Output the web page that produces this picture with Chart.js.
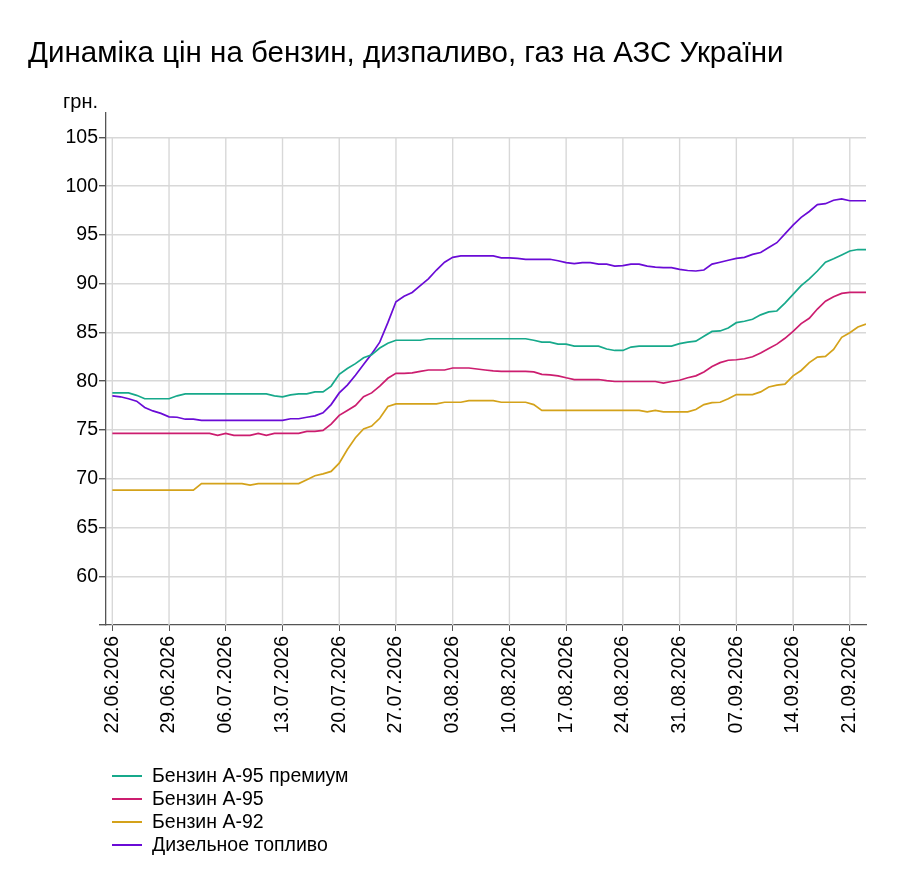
<!DOCTYPE html>
<html>
<head>
<meta charset="utf-8">
<script src="https://cdn.jsdelivr.net/npm/chart.js@4.4.1/dist/chart.umd.min.js"></script>
<style>
  html, body { margin: 0; padding: 0; background: #fff; }
  #wrap { position: relative; width: 897px; height: 875px; font-family: "Liberation Sans", Arial, sans-serif; color: #000; }
  #c { position: absolute; left: 0; top: 0; }
  #title { position: absolute; left: 28px; top: 35px; font-size: 29.5px; white-space: nowrap; }
  #unit { position: absolute; left: 63px; top: 90px; font-size: 20px; }
  #legend { position: absolute; left: 112px; top: 764px; font-size: 19.5px; }
  .li { position: relative; height: 23px; line-height: 23px; padding-left: 40px; white-space: nowrap; }
  .li span { position: absolute; left: 0; top: 11px; width: 30px; height: 2px; }
</style>
</head>
<body>
<div id="wrap">
  <canvas id="c" width="897" height="875"></canvas>
  <div id="title">Динаміка цін на бензин, дизпаливо, газ на АЗС України</div>
  <div id="unit">грн.</div>
  <div id="legend"></div>
</div>
<script>
const seriesNames = ['Бензин А-95 премиум', 'Бензин А-95', 'Бензин А-92', 'Дизельное топливо'];
const seriesColors = ['#17a98b', '#cc1d6f', '#d4a21a', '#6a0bd6'];

const tickDays = [0, 7, 14, 21, 28, 35, 42, 49, 56, 63, 70, 77, 84, 91];
const tickLabels = ['22.06.2026','29.06.2026','06.07.2026','13.07.2026','20.07.2026','27.07.2026','03.08.2026','10.08.2026','17.08.2026','24.08.2026','31.08.2026','07.09.2026','14.09.2026','21.09.2026'];
const yTicks = [55, 60, 65, 70, 75, 80, 85, 90, 95, 100, 105];

const a95premium = [
  78.8, 78.8, 78.8, 78.55, 78.2, 78.2, 78.2, 78.2, 78.5, 78.7,
  78.7, 78.7, 78.7, 78.7, 78.7, 78.7, 78.7, 78.7, 78.7, 78.7,
  78.5, 78.4, 78.6, 78.7, 78.7, 78.9, 78.9, 79.5, 80.7, 81.3,
  81.8, 82.4, 82.7, 83.4, 83.9, 84.2, 84.2, 84.2, 84.2, 84.35,
  84.35, 84.35, 84.35, 84.35, 84.35, 84.35, 84.35, 84.35, 84.35, 84.35,
  84.35, 84.35, 84.2, 84.0, 84.0, 83.8, 83.8, 83.6, 83.6, 83.6,
  83.6, 83.3, 83.15, 83.15, 83.5, 83.6, 83.6, 83.6, 83.6, 83.6,
  83.85, 84.0, 84.1, 84.6, 85.1, 85.15, 85.45, 86.0, 86.15, 86.35,
  86.8, 87.1, 87.2, 88.0, 88.9, 89.8, 90.5, 91.3, 92.2, 92.55,
  92.95, 93.35, 93.5, 93.5
];
const a95 = [
  74.65, 74.65, 74.65, 74.65, 74.65, 74.65, 74.65, 74.65, 74.65, 74.65,
  74.65, 74.65, 74.65, 74.45, 74.65, 74.45, 74.45, 74.45, 74.65, 74.45,
  74.65, 74.65, 74.65, 74.65, 74.85, 74.85, 74.95, 75.6, 76.5, 77.0,
  77.5, 78.4, 78.8, 79.5, 80.3, 80.8, 80.8, 80.85, 81.0, 81.15,
  81.15, 81.15, 81.35, 81.35, 81.35, 81.25, 81.15, 81.05, 81.0, 81.0,
  81.0, 81.0, 80.95, 80.7, 80.65, 80.55, 80.35, 80.17, 80.17, 80.17,
  80.17, 80.05, 79.97, 79.97, 79.97, 79.97, 79.97, 79.97, 79.8, 79.97,
  80.1, 80.35, 80.55, 80.95, 81.5, 81.9, 82.15, 82.2, 82.3, 82.5,
  82.9, 83.35, 83.8, 84.4, 85.1, 85.9, 86.45, 87.4, 88.2, 88.65,
  89.0, 89.1, 89.1, 89.1
];
const a92 = [
  68.83, 68.83, 68.83, 68.83, 68.83, 68.83, 68.83, 68.83, 68.83, 68.83,
  68.83, 69.5, 69.5, 69.5, 69.5, 69.5, 69.5, 69.35, 69.5, 69.5,
  69.5, 69.5, 69.5, 69.5, 69.9, 70.3, 70.5, 70.75, 71.6, 73.0,
  74.2, 75.1, 75.4, 76.2, 77.4, 77.67, 77.67, 77.67, 77.67, 77.67,
  77.67, 77.84, 77.84, 77.84, 78.0, 78.0, 78.0, 78.0, 77.84, 77.84,
  77.84, 77.84, 77.6, 77.0, 77.0, 77.0, 77.0, 77.0, 77.0, 77.0,
  77.0, 77.0, 77.0, 77.0, 77.0, 77.0, 76.85, 77.0, 76.85, 76.85,
  76.85, 76.85, 77.1, 77.6, 77.8, 77.84, 78.2, 78.63, 78.63, 78.63,
  78.9, 79.4, 79.6, 79.7, 80.55, 81.1, 81.9, 82.47, 82.55, 83.25,
  84.5, 84.97, 85.55, 85.86
];
const diesel = [
  78.5, 78.4, 78.2, 77.95, 77.3, 76.95, 76.7, 76.35, 76.3, 76.1,
  76.1, 75.98, 75.98, 75.98, 75.98, 75.98, 75.98, 75.98, 75.98, 75.98,
  75.98, 75.98, 76.15, 76.15, 76.3, 76.45, 76.75, 77.6, 78.8, 79.6,
  80.6, 81.7, 82.8, 84.0, 86.0, 88.15, 88.7, 89.1, 89.8, 90.5,
  91.4, 92.2, 92.7, 92.85, 92.85, 92.85, 92.85, 92.85, 92.65, 92.65,
  92.6, 92.5, 92.5, 92.5, 92.5, 92.35, 92.16, 92.05, 92.16, 92.16,
  92.0, 92.0, 91.8, 91.85, 92.0, 92.0, 91.8, 91.7, 91.64, 91.64,
  91.47, 91.35, 91.3, 91.4, 92.0, 92.2, 92.4, 92.6, 92.7, 93.0,
  93.2, 93.7, 94.2, 95.1, 96.0, 96.8, 97.4, 98.1, 98.2, 98.55,
  98.7, 98.5, 98.5, 98.5
];
const seriesValues = [a95premium, a95, a92, diesel];

const FONT = '"Liberation Sans", Arial, sans-serif';

// legend (HTML)
const legendEl = document.getElementById('legend');
seriesNames.forEach((n, i) => {
  const d = document.createElement('div');
  d.className = 'li';
  d.innerHTML = '<span style="background:' + seriesColors[i] + '"></span>' + n;
  legendEl.appendChild(d);
});

const vGrid = {
  id: 'vGrid',
  beforeDatasetsDraw(chart) {
    const ctx = chart.ctx, xs = chart.scales.x, ys = chart.scales.y;
    const top = ys.getPixelForValue(105), bottom = chart.chartArea.bottom;
    ctx.save();
    ctx.strokeStyle = '#d8d8d8';
    ctx.lineWidth = 1.4;
    tickDays.forEach(d => {
      const x = xs.getPixelForValue(d);
      ctx.beginPath(); ctx.moveTo(x, top); ctx.lineTo(x, bottom); ctx.stroke();
    });
    ctx.restore();
  }
};

new Chart(document.getElementById('c'), {
  type: 'line',
  data: {
    datasets: seriesValues.map((vals, i) => ({
      label: seriesNames[i],
      data: vals.map((v, d) => ({ x: d, y: v })),
      borderColor: seriesColors[i],
      backgroundColor: seriesColors[i],
      borderWidth: 1.7,
      pointRadius: 0,
      tension: 0,
      fill: false
    }))
  },
  options: {
    responsive: false,
    animation: false,
    layout: { padding: { left: 0, top: 113, right: 31, bottom: 120 } },
    plugins: { legend: { display: false }, title: { display: false }, tooltip: { enabled: false } },
    scales: {
      x: {
        type: 'linear',
        min: -0.78,
        max: 93,
        afterBuildTicks(scale) { scale.ticks = tickDays.map(v => ({ value: v })); },
        afterFit(scale) { scale.height = 130; },
        ticks: {
          autoSkip: false,
          maxRotation: 90,
          minRotation: 90,
          padding: 5,
          color: '#000',
          font: { family: FONT, size: 19.5 },
          callback(v) { const k = tickDays.indexOf(v); return k >= 0 ? tickLabels[k] : ''; }
        },
        grid: { drawOnChartArea: false, drawTicks: true, tickLength: 6, tickColor: '#555', color: '#555' },
        border: { display: true, color: '#555', width: 1.3 }
      },
      y: {
        type: 'linear',
        min: 55,
        max: 107.5,
        afterBuildTicks(scale) { scale.ticks = yTicks.map(v => ({ value: v })); },
        afterFit(scale) { scale.width = 106; },
        ticks: {
          autoSkip: false,
          padding: 1,
          color: '#000',
          font: { family: FONT, size: 19.5 },
          callback(v) { return v === 55 ? '' : String(v); }
        },
        grid: {
          color: ctx => (ctx.tick && ctx.tick.value === 55) ? 'rgba(0,0,0,0)' : '#d8d8d8',
          lineWidth: 1.4,
          tickLength: 7,
          tickColor: '#555'
        },
        border: { display: true, color: '#555', width: 1.3 }
      }
    }
  },
  plugins: [vGrid]
});
</script>
</body>
</html>
